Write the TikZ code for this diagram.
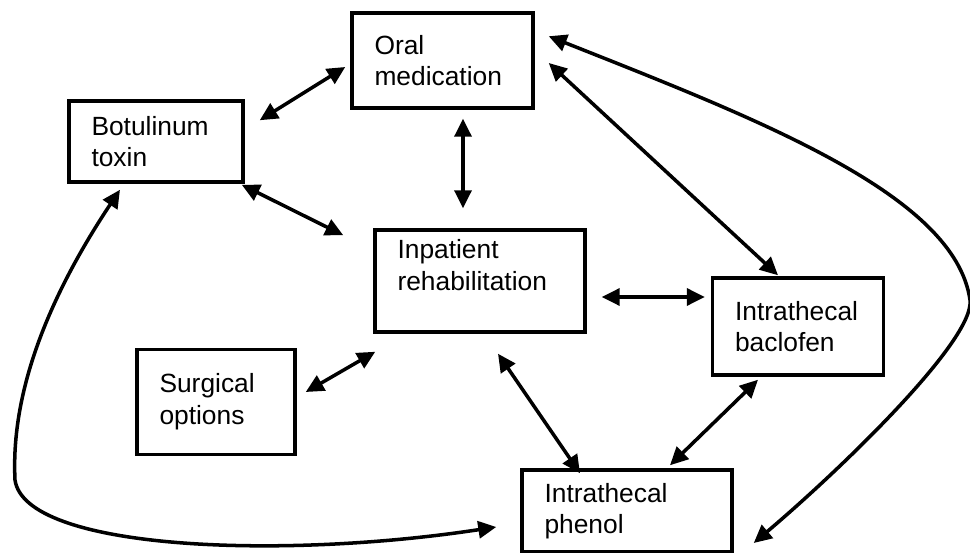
\documentclass[tikz,border=0pt]{standalone}
\usepackage{fontspec}
\setmainfont{Liberation Sans}
\usepackage{tikz}
\usetikzlibrary{positioning,arrows.meta,calc}
\tikzset{
    base/.style={font=\fontsize{15}{18}\selectfont, align=left},
    box/.style={base, rectangle, draw=black, line width=2pt, fill=white,
                inner xsep=0.45cm, inner ysep=0pt},
    link/.style={{Triangle[length=0.36cm,width=0.34cm]}-{Triangle[length=0.36cm,width=0.34cm]},
                 line width=2pt, black}
}
\begin{document}
\begin{tikzpicture}[x=0.02cm, y=-0.02cm]
  \useasboundingbox (0,0) rectangle (970,553);

  % Treatment boxes
  \node[box, text width=2.72cm, minimum height=1.9cm] (oral) at (442.5,60.5) {Oral\\medication};
  \node[box, text width=2.58cm, minimum height=1.62cm] (botox) at (156,141.5) {Botulinum\\toxin};
  \node[box, text width=3.3cm, minimum height=2.04cm] (inpat) at (480,281) {Inpatient\\rehabilitation\\\mbox{}};
  \node[box, text width=2.52cm, minimum height=1.94cm] (baclo) at (798,326.5) {Intrathecal\\baclofen};
  \node[box, text width=2.26cm, minimum height=2.1cm] (surg) at (216,402) {Surgical\\options};
  \node[box, text width=3.3cm, minimum height=1.64cm] (phenol) at (627,511) {Intrathecal\\phenol};

  % Links around oral medication
  \draw[link] ($(botox.north east)+(15,21)$) -- ($(oral.west)+(-5,6.5)$);
  \draw[link] ($(oral.south)+(20.5,9)$) -- ($(inpat.north)+(-17,-20)$);
  \draw[link] ($(oral.east)+(14,2.5)$) -- ($(baclo.north)+(-20,-1)$);

  % Links around inpatient rehabilitation
  \draw[link] ($(botox.south east)+(-3,1)$) -- ($(inpat.north west)+(-30,7)$);
  \draw[link] ($(inpat.east)+(15,16)$) -- ($(baclo.west)+(-6,-29.5)$);
  \draw[link] ($(surg.east)+(9,-10)$) -- ($(inpat.south west)+(2,18)$);
  \draw[link] ($(inpat.south)+(18,20)$) -- ($(phenol.north)+(-47,5)$);

  % Baclofen to phenol
  \draw[link] ($(baclo.south)+(-40,3)$) -- ($(phenol.north)+(43,-3)$);

  % Long curved links
  \draw[link] ($(oral.north east)+(14,25)$)
     .. controls (760,120) and (955,195) .. (970,300)
     .. controls (975,340) and (840,470) .. ($(phenol.east)+(20,32)$);
  \draw[link] ($(botox.south)+(-36,6)$)
     .. controls (60,280) and (10,380) .. (15,480)
     .. controls (25,550) and (280,560) .. ($(phenol.west)+(-24,16)$);
\end{tikzpicture}
\end{document}
